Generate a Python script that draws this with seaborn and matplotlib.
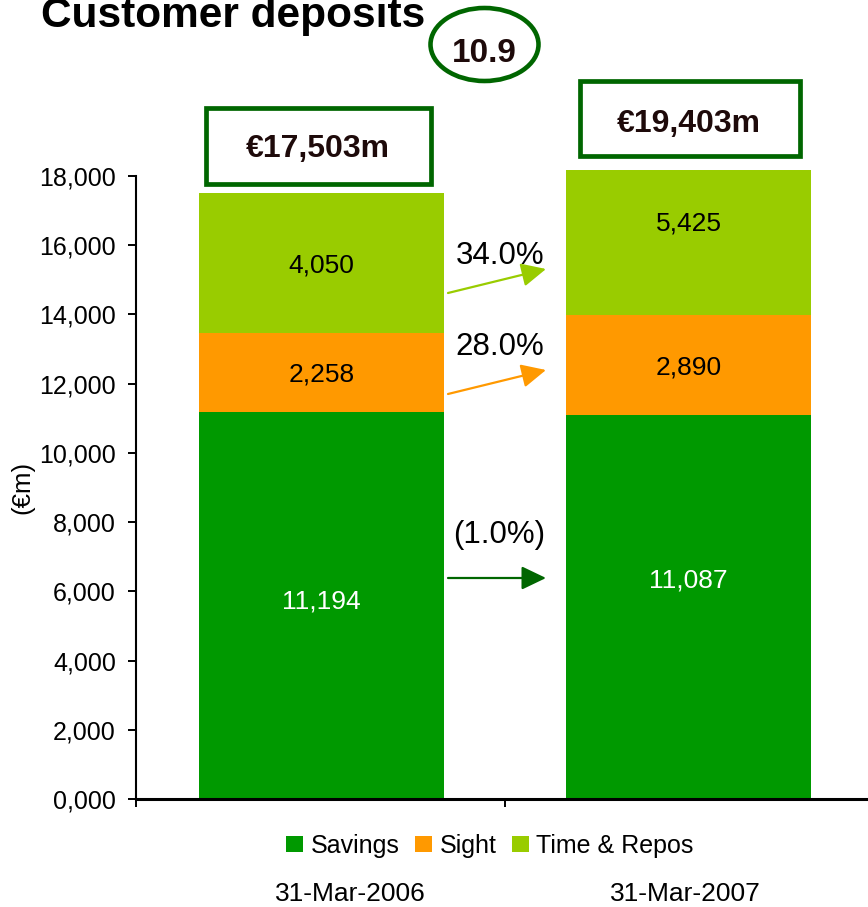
import matplotlib
matplotlib.use("Agg")
import matplotlib.pyplot as plt
import seaborn as sns
import numpy as np
from matplotlib.patches import Rectangle, Ellipse, Patch, FancyArrowPatch

# ---------------- data ----------------
dates = ["31-Mar-2006", "31-Mar-2007"]
series = ["Savings", "Sight", "Time & Repos"]
savings = [11194, 11087]
sight = [2258, 2890]
time_repos = [4050, 5425]
totals = ["€17,503m", "€19,403m"]
changes = ["(1.0%)", "28.0%", "34.0%"]  # savings, sight, time & repos
growth = "10.9"
yticks = [0, 2000, 4000, 6000, 8000, 10000, 12000, 14000, 16000, 18000]
ytick_labels = ["0,000", "2,000", "4,000", "6,000", "8,000", "10,000",
                "12,000", "14,000", "16,000", "18,000"]
title = "Customer deposits"
ylabel = "(€m)"

# ---------------- style ----------------
colors = ["#009900", "#FF9900", "#99CC00"]
label_colors = ["white", "black", "black"]
box_green = "#006600"
dark_text = "#1E0A0A"

sns.set_theme(style="white")
plt.rcParams['font.family'] = ['Liberation Sans', 'DejaVu Sans']
plt.rcParams['text.color'] = 'black'
plt.rcParams['axes.labelcolor'] = 'black'
plt.rcParams['xtick.color'] = 'black'
plt.rcParams['ytick.color'] = 'black'

W, H = 868, 907
fig = plt.figure(figsize=(W / 100, H / 100), dpi=100)


def fx(px):
    return px / W


def fy(py):
    return 1 - py / H


ax_left, ax_right, ax_top, ax_bottom = 136, 874, 170, 799
ax = fig.add_axes([fx(ax_left), fy(ax_bottom),
                   (ax_right - ax_left) / W, (ax_bottom - ax_top) / H])

layers = np.array([savings, sight, time_repos])
tops = np.cumsum(layers, axis=0)
bottoms = tops - layers

# draw cumulative bars from the top layer down so lower layers overlay
for i in reversed(range(len(series))):
    sns.barplot(x=dates, y=tops[i], order=dates, color=colors[i], width=0.6676,
                saturation=1, errorbar=None, linewidth=0, ax=ax)

ax.set_xlim(-0.505, 1.505)
ax.set_ylim(0, 18173)
ax.set_xlabel("")
ax.set_ylabel("")

# spines
for s in ["top", "right"]:
    ax.spines[s].set_visible(False)
ax.spines["left"].set_color("black")
ax.spines["left"].set_linewidth(1.5)
ax.spines["left"].set_bounds(0, 18000)
ax.spines["bottom"].set_color("black")
ax.spines["bottom"].set_linewidth(2.2)

ax.set_yticks(yticks)
ax.set_yticklabels(ytick_labels)
ax.set_xticks([-0.505, 0.5])
ax.set_xticklabels(["", ""])
ax.tick_params(axis="y", left=True, direction="out", length=6, width=1.4,
               pad=8.5, labelsize=18, labelcolor="black", color="black")
ax.tick_params(axis="x", bottom=True, direction="out", length=6, width=1.4,
               color="black")

# segment value labels
label_offsets_px = [[6, 29], [0, 0], [0, 0]]
for i in range(len(series)):
    for j in range(len(dates)):
        val = layers[i][j]
        ymid = bottoms[i][j] + val / 2
        ax.annotate(f"{val:,}", xy=(j, ymid), xytext=(0, label_offsets_px[i][j] * 0.72),
                    textcoords="offset points", ha="center", va="center_baseline",
                    fontsize=19, color=label_colors[i])

# change arrows + percentages (figure pixel positions)
arrow_specs = [
    ((448, 578), (546, 578), box_green, (499, 543)),   # savings
    ((448, 394), (546, 370), colors[1], (500, 355)),   # sight
    ((448, 293), (546, 269), colors[2], (500, 264)),   # time & repos
]
for (start, end, col, tpos), txt in zip(arrow_specs, changes):
    fig.add_artist(FancyArrowPatch(
        (fx(start[0]), fy(start[1])), (fx(end[0]), fy(end[1])),
        transform=fig.transFigure,
        arrowstyle="-|>,head_length=0.75,head_width=0.36",
        mutation_scale=20, color=col, lw=1.6, shrinkA=0, shrinkB=0))
    fig.text(fx(tpos[0]), fy(tpos[1]), txt, ha="center", va="baseline",
             fontsize=22.5, color="black")

# total boxes
box_specs = [((206.3, 108.3, 430.7, 183.7), (317.5, 157)),
             ((580.3, 81.3, 799.7, 155.7), (689, 132))]
for ((x0, y0, x1, y1), tp), txt in zip(box_specs, totals):
    fig.add_artist(Rectangle((fx(x0), fy(y1)), (x1 - x0) / W, (y1 - y0) / H,
                             transform=fig.transFigure, fill=False,
                             edgecolor=box_green, lw=3.4))
    fig.text(fx(tp[0]), fy(tp[1]), txt, ha="center", va="baseline",
             fontsize=23, fontweight="bold", color=dark_text)

# growth ellipse
fig.add_artist(Ellipse((fx(484.5), fy(44.5)), 108 / W, 73 / H,
                       transform=fig.transFigure, fill=False,
                       edgecolor=box_green, lw=3.3))
fig.text(fx(484), fy(62), growth, ha="center", va="baseline",
         fontsize=24, fontweight="bold", color=dark_text)

# title (cut at the top edge, as in the reference)
fig.text(fx(41), fy(27), title, ha="left", va="baseline",
         fontsize=30.5, fontweight="bold", color="black")

# y label
fig.text(fx(22), fy(487), ylabel, rotation=90, ha="center", va="center",
         fontsize=18.5, color="black")

# legend
handles = [Patch(facecolor=c, edgecolor="none") for c in colors]
leg = fig.legend(handles, series, loc="center", bbox_to_anchor=(fx(490), fy(846)),
                 ncol=3, frameon=False, fontsize=18, handlelength=0.68,
                 handleheight=0.6, handletextpad=0.28, columnspacing=0.64,
                 borderaxespad=0, borderpad=0)
for t in leg.get_texts():
    t.set_color("black")

# category labels
for d, px in zip(dates, [350, 685]):
    fig.text(fx(px), fy(901), d, ha="center", va="baseline",
             fontsize=19, color="black")

fig.savefig("out.png", dpi=100)
